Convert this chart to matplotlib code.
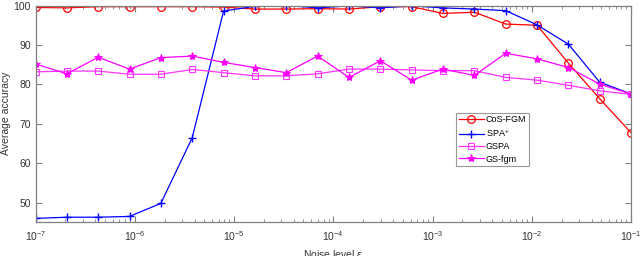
import matplotlib
matplotlib.use("Agg")
import matplotlib.pyplot as plt
from matplotlib.ticker import LogLocator, NullFormatter

plt.rcParams["font.family"] = ["Liberation Sans", "DejaVu Sans"]
plt.rcParams["mathtext.fontset"] = "custom"
plt.rcParams["mathtext.rm"] = "Liberation Sans"
plt.rcParams["mathtext.it"] = "Liberation Sans:italic"

noise = [1.0e-7, 2.07e-7, 4.28e-7, 8.86e-7, 1.83e-6, 3.79e-6, 7.85e-6,
         1.62e-5, 3.36e-5, 6.95e-5, 1.44e-4, 2.98e-4, 6.16e-4, 1.27e-3,
         2.64e-3, 5.46e-3, 1.13e-2, 2.34e-2, 4.83e-2, 1.0e-1]

cos_fgm = [99.5, 99.4, 99.7, 99.7, 99.7, 99.7, 99.6, 99.1, 99.1, 99.2,
           99.1, 99.7, 99.7, 98.0, 98.3, 95.3, 95.0, 85.4, 76.4, 67.8]
spa_plus = [46.1, 46.4, 46.4, 46.6, 49.9, 66.5, 98.6, 99.8, 100.0, 99.4,
            99.9, 99.4, 99.9, 99.4, 99.1, 98.7, 95.1, 90.2, 80.6, 77.6]
gspa = [83.2, 83.4, 83.4, 82.6, 82.6, 83.8, 83.0, 82.2, 82.2, 82.7,
        83.9, 83.9, 83.7, 83.5, 83.5, 81.8, 81.1, 79.8, 78.4, 77.5]
gs_fgm = [85.2, 82.7, 86.9, 83.9, 86.8, 87.2, 85.6, 84.3, 83.0, 87.2,
          81.8, 86.0, 81.1, 83.9, 82.3, 87.9, 86.5, 84.3, 80.1, 77.6]

fig = plt.figure(figsize=(6.4, 2.56), dpi=100)
ax = fig.add_axes([0.0555, 0.133, 0.9305, 0.8455])

ax.plot(noise, cos_fgm, color="#ff0000", lw=0.9, marker="o", ms=5.5,
        mfc="none", mew=0.9, label="CoS-FGM")
ax.plot(noise, spa_plus, color="#0000ff", lw=0.9, marker="+", ms=6,
        mew=1.0, label="SPA$^{+}$")
ax.plot(noise, gspa, color="#ff33ff", lw=0.9, marker="s", ms=4.5,
        mfc="none", mew=0.8, label="GSPA")
ax.plot(noise, gs_fgm, color="#ff00ff", lw=0.9, marker="*", ms=6,
        mew=0.7, label="GS-fgm")

ax.set_xscale("log")
ax.set_xlim(1e-7, 1e-1)
ax.set_ylim(45.2, 100)
ax.set_yticks([50, 60, 70, 80, 90, 100])
ax.xaxis.set_major_locator(LogLocator(base=10, numticks=10))
ax.xaxis.set_minor_locator(LogLocator(base=10, subs=range(2, 10), numticks=10))
ax.xaxis.set_minor_formatter(NullFormatter())

for s in ax.spines.values():
    s.set_color("#808080")
    s.set_linewidth(0.9)
ax.tick_params(which="both", direction="in", top=True, right=True,
               colors="#808080", labelcolor="#333333", labelsize=7.5)
ax.tick_params(which="major", length=4)
ax.tick_params(which="minor", length=2)
ax.tick_params(axis="x", pad=5)

ax.set_xlabel(r"Noise level $\epsilon$", fontsize=7.5, color="#333333", labelpad=4)
ax.set_ylabel("Average accuracy", fontsize=7.5, color="#333333")
ax.yaxis.set_label_coords(-0.042, 0.5)

leg = ax.legend(loc="upper left", bbox_to_anchor=(0.706, 0.505), fontsize=6.5,
                frameon=True, fancybox=False, handlelength=2.8,
                handletextpad=0.2, borderpad=0.3, labelspacing=0.35,
                borderaxespad=0)
leg.get_frame().set_edgecolor("#808080")
leg.get_frame().set_linewidth(0.8)

fig.savefig("out.png", dpi=100)
